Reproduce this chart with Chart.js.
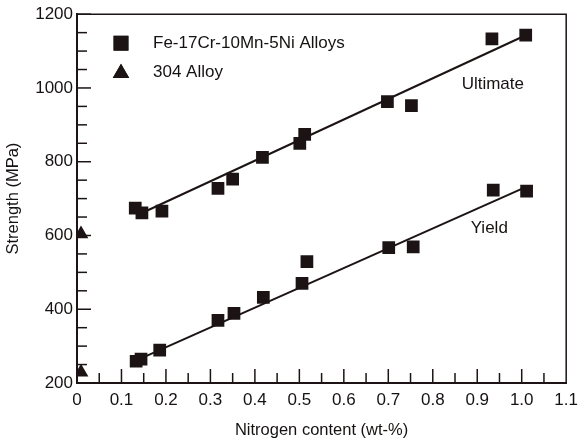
<!DOCTYPE html>
<html>
<head>
<meta charset="utf-8">
<script src="https://cdn.jsdelivr.net/npm/chart.js@4.4.1/dist/chart.umd.min.js"></script>
<style>
  html, body { margin: 0; padding: 0; background: #fff; }
  #wrap { width: 585px; height: 444px; }
</style>
</head>
<body>
<div id="wrap"><canvas id="chart"></canvas></div>
<script>
// values (nitrogen wt-%, strength MPa)
const ultN = [0.131, 0.146, 0.191, 0.317, 0.350, 0.417, 0.501, 0.512, 0.698, 0.752, 0.933, 1.009];
const ultS = [674, 661, 666, 728, 753, 812, 850, 874, 963, 952, 1133, 1143];
const yldN = [0.133, 0.144, 0.186, 0.317, 0.353, 0.419, 0.506, 0.517, 0.701, 0.756, 0.936, 1.011];
const yldS = [259, 265, 289, 370, 389, 432, 470, 529, 567, 569, 723, 720];
const n304 = [0.009, 0.009];
const s304 = [604, 229];
// fitted lines (end points)
const ultFitN = [0.146, 1.009];
const ultFitS = [661, 1143];
const yldFitN = [0.135, 1.01];
const yldFitS = [262, 732];
// axis ticks
const xMin = 0, xMax = 1.1, xStep = 0.05;
const yMin = 200, yMax = 1200, yStep = 50;
const legendLabels = ['Fe-17Cr-10Mn-5Ni Alloys', '304 Alloy'];
const curveLabels = [
  { text: 'Ultimate', x: 0.935, y: 1011 },
  { text: 'Yield', x: 0.927, y: 620 }
];

const FONT = '"Liberation Sans", Arial, Helvetica, sans-serif';
const INK = '#1c1414';
const TXT = '#161212';

const toXY = (xs, ys) => xs.map((x, i) => ({ x: x, y: ys[i] }));

// inward ticks, frame, curve labels and legend
const decor = {
  id: 'decor',
  afterDraw(chart) {
    const ctx = chart.ctx;
    const area = chart.chartArea;
    const xs = chart.scales.x, ys = chart.scales.y;
    ctx.save();
    ctx.strokeStyle = INK;
    ctx.lineWidth = 1.5;
    // top and right frame
    ctx.beginPath();
    ctx.moveTo(area.left, area.top);
    ctx.lineTo(area.right, area.top);
    ctx.lineTo(area.right, area.bottom);
    ctx.stroke();
    // x ticks
    xs.ticks.forEach(t => {
      const px = xs.getPixelForValue(t.value);
      const major = Math.round(t.value * 100) % 10 === 0;
      if (px <= area.left + 1 || px >= area.right - 1) return;
      ctx.beginPath();
      ctx.moveTo(px, area.bottom);
      ctx.lineTo(px, area.bottom - (major ? 14 : 10));
      ctx.stroke();
    });
    // y ticks
    ys.ticks.forEach(t => {
      const py = ys.getPixelForValue(t.value);
      const major = Math.round(t.value) % 200 === 0;
      if (py >= area.bottom - 1) return;
      ctx.beginPath();
      ctx.moveTo(area.left, py);
      ctx.lineTo(area.left + (major ? 14 : 10), py);
      ctx.stroke();
    });
    // curve labels
    ctx.fillStyle = TXT;
    ctx.font = '17px ' + FONT;
    ctx.textAlign = 'center';
    ctx.textBaseline = 'middle';
    curveLabels.forEach(l => {
      ctx.fillText(l.text, xs.getPixelForValue(l.x), ys.getPixelForValue(l.y));
    });
    // legend
    ctx.textAlign = 'left';
    const styles = ['rect', 'triangle'];
    const rads = [10.5, 9.5];
    legendLabels.forEach((txt, i) => {
      const ly = area.top + 29 + i * 29;
      const lx = area.left + 44;
      ctx.fillStyle = INK;
      Chart.helpers.drawPoint(ctx, { pointStyle: styles[i], radius: rads[i], borderWidth: 0 }, lx, ly + (i ? 1 : 0));
      ctx.fill();
      ctx.fillStyle = TXT;
      ctx.fillText(txt, area.left + 76, ly);
    });
    ctx.restore();
  }
};

new Chart(document.getElementById('chart'), {
  type: 'scatter',
  data: {
    datasets: [
      {
        label: 'Ultimate fit',
        data: toXY(ultFitN, ultFitS),
        showLine: true,
        borderColor: INK,
        borderWidth: 2,
        pointRadius: 0
      },
      {
        label: 'Yield fit',
        data: toXY(yldFitN, yldFitS),
        showLine: true,
        borderColor: INK,
        borderWidth: 2,
        pointRadius: 0
      },
      {
        label: 'Ultimate',
        data: toXY(ultN, ultS),
        pointStyle: 'rect',
        pointRadius: 9,
        backgroundColor: INK,
        borderWidth: 0
      },
      {
        label: 'Yield',
        data: toXY(yldN, yldS),
        pointStyle: 'rect',
        pointRadius: 9,
        backgroundColor: INK,
        borderWidth: 0
      },
      {
        label: '304 Alloy',
        data: toXY(n304, s304),
        pointStyle: 'triangle',
        pointRadius: 8.5,
        backgroundColor: INK,
        borderWidth: 0
      }
    ]
  },
  options: {
    responsive: true,
    maintainAspectRatio: false,
    animation: false,
    events: [],
    layout: { padding: { top: 12, right: 12, left: 0, bottom: 0 } },
    plugins: {
      legend: { display: false },
      tooltip: { enabled: false }
    },
    scales: {
      x: {
        type: 'linear',
        min: xMin,
        max: xMax,
        border: { color: INK, width: 2 },
        grid: { display: false, drawTicks: false },
        ticks: {
          stepSize: xStep,
          autoSkip: false,
          maxRotation: 0,
          padding: 7,
          color: TXT,
          font: { family: FONT, size: 17 },
          callback: v => {
            const k = Math.round(v * 100);
            if (k % 10 !== 0) return '';
            return k === 0 ? '0' : (k / 100).toFixed(1);
          }
        },
        title: {
          display: true,
          text: 'Nitrogen content (wt-%)',
          color: TXT,
          font: { family: FONT, size: 16.5 },
          padding: { top: 0, bottom: 4 }
        },
        afterFit: s => { s.height = 61; }
      },
      y: {
        type: 'linear',
        min: yMin,
        max: yMax,
        border: { color: INK, width: 2 },
        grid: { display: false, drawTicks: false },
        ticks: {
          stepSize: yStep,
          autoSkip: false,
          padding: 4,
          color: TXT,
          font: { family: FONT, size: 17 },
          callback: v => (Math.round(v) % 200 === 0 ? String(Math.round(v)) : '')
        },
        title: {
          display: true,
          text: 'Strength (MPa)',
          color: TXT,
          font: { family: FONT, size: 16.5 },
          padding: { top: 4, bottom: 0 }
        },
        afterFit: s => { s.width = 77; }
      }
    }
  },
  plugins: [decor]
});
</script>
</body>
</html>
